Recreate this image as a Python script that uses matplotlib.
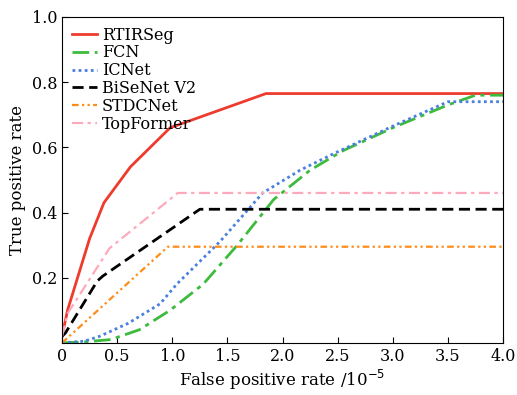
import matplotlib
matplotlib.use("Agg")
import matplotlib.pyplot as plt

# ROC-like curves
rtir_x = [0, 0.05, 0.25, 0.38, 0.62, 0.98, 1.85, 4.0]
rtir_y = [0.02, 0.10, 0.32, 0.43, 0.54, 0.66, 0.765, 0.765]

fcn_x = [0, 0.2, 0.44, 0.7, 0.98, 1.28, 1.59, 1.92, 2.25, 2.55, 3.0, 3.5, 3.75, 4.0]
fcn_y = [0, 0.003, 0.01, 0.04, 0.10, 0.18, 0.30, 0.44, 0.53, 0.59, 0.66, 0.73, 0.76, 0.76]

icnet_x = [0, 0.2, 0.34, 0.6, 0.89, 1.04, 1.43, 1.82, 2.16, 2.46, 3.0, 3.5, 4.0]
icnet_y = [0, 0.005, 0.02, 0.06, 0.12, 0.18, 0.31, 0.46, 0.53, 0.58, 0.665, 0.74, 0.74]

bisenet_x = [0, 0.03, 0.32, 0.37, 1.25, 4.0]
bisenet_y = [0.02, 0.03, 0.19, 0.205, 0.41, 0.41]

stdc_x = [0, 0.96, 4.0]
stdc_y = [0.0, 0.295, 0.295]

topf_x = [0, 0.05, 0.43, 1.05, 4.0]
topf_y = [0.02, 0.09, 0.29, 0.46, 0.46]

labels = ["RTIRSeg", "FCN", "ICNet", "BiSeNet V2", "STDCNet", "TopFormer"]

plt.rcParams["font.family"] = ["DejaVu Serif"]
fig = plt.figure(figsize=(5.17, 3.95), dpi=100)
ax = fig.add_axes([0.12, 0.132, 0.853, 0.825])

ax.plot(rtir_x, rtir_y, color="#ee3b2e", lw=2, ls="-", label=labels[0])
ax.plot(fcn_x, fcn_y, color="#3dbb3d", lw=2, ls=(0, (6, 2, 1.5, 2)), label=labels[1])
ax.plot(icnet_x, icnet_y, color="#4a7fe0", lw=2, ls=(0, (1, 1.2)), label=labels[2])
ax.plot(bisenet_x, bisenet_y, color="black", lw=2, ls=(0, (4, 2)), label=labels[3])
ax.plot(stdc_x, stdc_y, color="#ff8c1a", lw=1.6, ls=(0, (3, 1.5, 1, 1.5, 1, 1.5)), label=labels[4])
ax.plot(topf_x, topf_y, color="#ffaabb", lw=1.6, ls=(0, (5, 2, 1.5, 2)), label=labels[5])

ax.set_xlim(0, 4.0)
ax.set_ylim(0, 1.0)
ax.set_xticks([0, 0.5, 1.0, 1.5, 2.0, 2.5, 3.0, 3.5, 4.0])
ax.set_xticklabels(["0", "0.5", "1.0", "1.5", "2.0", "2.5", "3.0", "3.5", "4.0"])
ax.set_yticks([0.2, 0.4, 0.6, 0.8, 1.0])
ax.set_yticklabels(["0.2", "0.4", "0.6", "0.8", "1.0"])
ax.tick_params(direction="in", length=4, labelsize=11.5)
ax.set_xlabel("False positive rate /10$^{-5}$", fontsize=12, labelpad=2)
ax.set_ylabel("True positive rate", fontsize=12)

ax.legend(loc="upper left", frameon=False, fontsize=11.5, handlelength=1.6,
          handletextpad=0.3, labelspacing=0.05, borderaxespad=0.2)

fig.savefig("out.png", dpi=100)
